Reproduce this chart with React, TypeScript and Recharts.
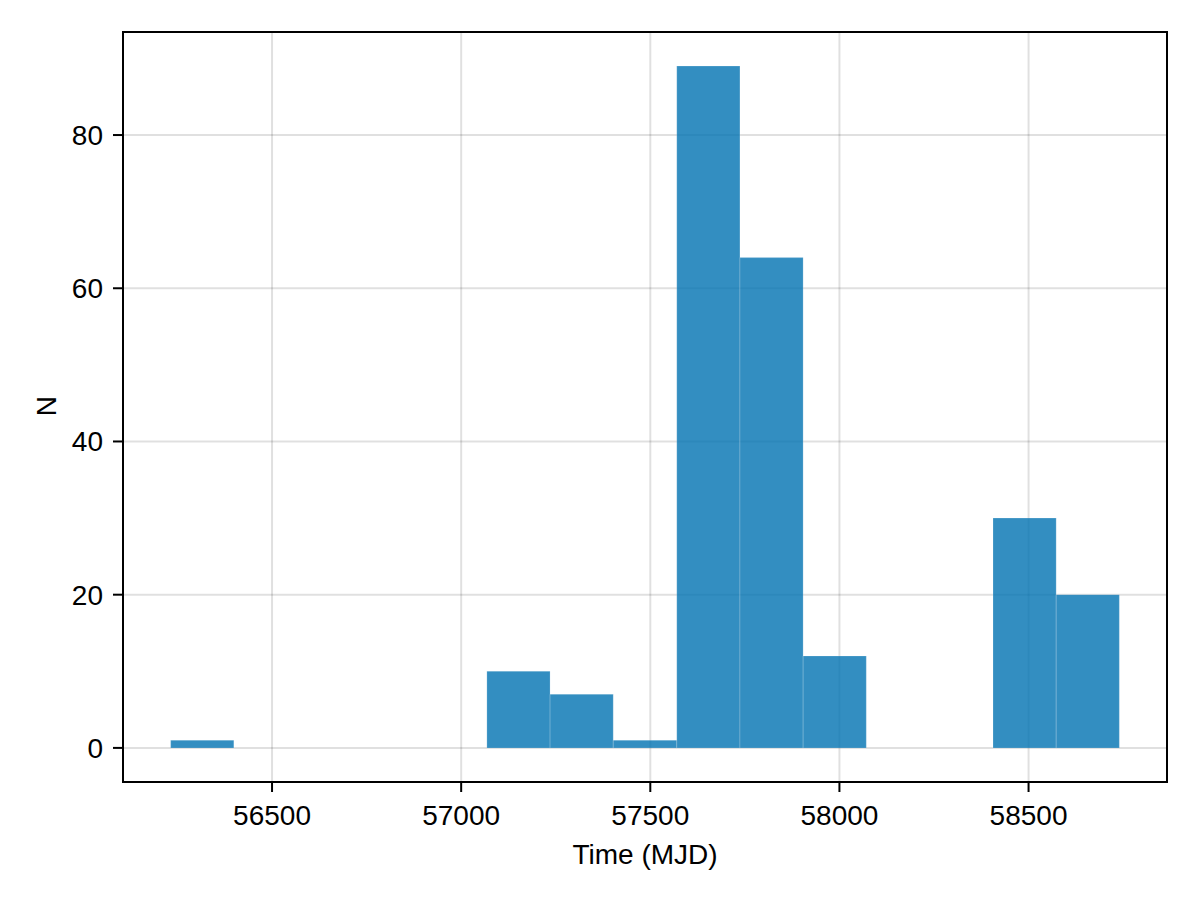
import React from "react";
import {
  ComposedChart,
  XAxis,
  YAxis,
  CartesianGrid,
  ReferenceArea,
  Scatter,
} from "recharts";

// histogram bin edges (MJD) and counts per bin
const binEdges = [
  56232, 56399, 56566, 56734, 56901, 57068, 57235, 57402, 57570, 57737, 57904,
  58071, 58238, 58406, 58573, 58740,
];
const binCounts = [1, 0, 0, 0, 0, 10, 7, 1, 89, 64, 12, 0, 0, 30, 20];

const xTicks = [56500, 57000, 57500, 58000, 58500];
const yTicks = [0, 20, 40, 60, 80];

const xDomain: [number, number] = [56106, 58866];
const yDomain: [number, number] = [-4.45, 93.45];

const FONT = "'Liberation Sans', Arial, Helvetica, sans-serif";

const bins = binCounts.map((count, i) => ({
  x0: binEdges[i],
  x1: binEdges[i + 1],
  mid: (binEdges[i] + binEdges[i + 1]) / 2,
  count,
}));

export default function App() {
  return (
    <div style={{ position: "absolute", left: 0, top: 0, background: "#fff" }}>
      <ComposedChart
        width={1200}
        height={900}
        data={bins}
        margin={{ top: 32, right: 33, left: 0, bottom: 0 }}
      >
        <CartesianGrid stroke="rgba(0,0,0,0.12)" strokeWidth={2} />
        <XAxis
          type="number"
          dataKey="mid"
          domain={xDomain}
          allowDataOverflow
          ticks={xTicks}
          height={118}
          tickSize={10}
          tickMargin={13}
          axisLine={{ stroke: "#000", strokeWidth: 2 }}
          tickLine={{ stroke: "#000", strokeWidth: 2 }}
          tick={{ fontSize: 28, fill: "#000", fontFamily: FONT }}
          label={{
            value: "Time (MJD)",
            position: "insideBottom",
            offset: 36,
            style: { fontSize: 28, fill: "#000", fontFamily: FONT },
          }}
        />
        <YAxis
          type="number"
          dataKey="count"
          domain={yDomain}
          allowDataOverflow
          ticks={yTicks}
          width={123}
          tickSize={10}
          tickMargin={10}
          axisLine={{ stroke: "#000", strokeWidth: 2 }}
          tickLine={{ stroke: "#000", strokeWidth: 2 }}
          tick={{ fontSize: 28, fill: "#000", fontFamily: FONT }}
          label={{
            content: () => (
              <text
                x={56}
                y={406}
                transform="rotate(-90, 56, 406)"
                textAnchor="middle"
                fontSize={28}
                fontFamily={FONT}
                fill="#000"
              >
                N
              </text>
            ),
          }}
        />
        <Scatter dataKey="count" fill="none" shape={() => null} isAnimationActive={false} />
        {bins
          .filter((b) => b.count > 0)
          .map((b) => (
            <ReferenceArea
              key={b.x0}
              x1={b.x0}
              x2={b.x1}
              y1={0}
              y2={b.count}
              fill="#0072B2"
              fillOpacity={0.8}
              stroke="#ffffff"
              strokeOpacity={0.18}
              strokeWidth={1}
              ifOverflow="visible"
            />
          ))}
        <ReferenceArea
          x1={xDomain[0]}
          x2={xDomain[1]}
          y1={yDomain[0]}
          y2={yDomain[1]}
          fill="none"
          fillOpacity={0}
          stroke="#000"
          strokeWidth={2}
          ifOverflow="visible"
        />
      </ComposedChart>
    </div>
  );
}
